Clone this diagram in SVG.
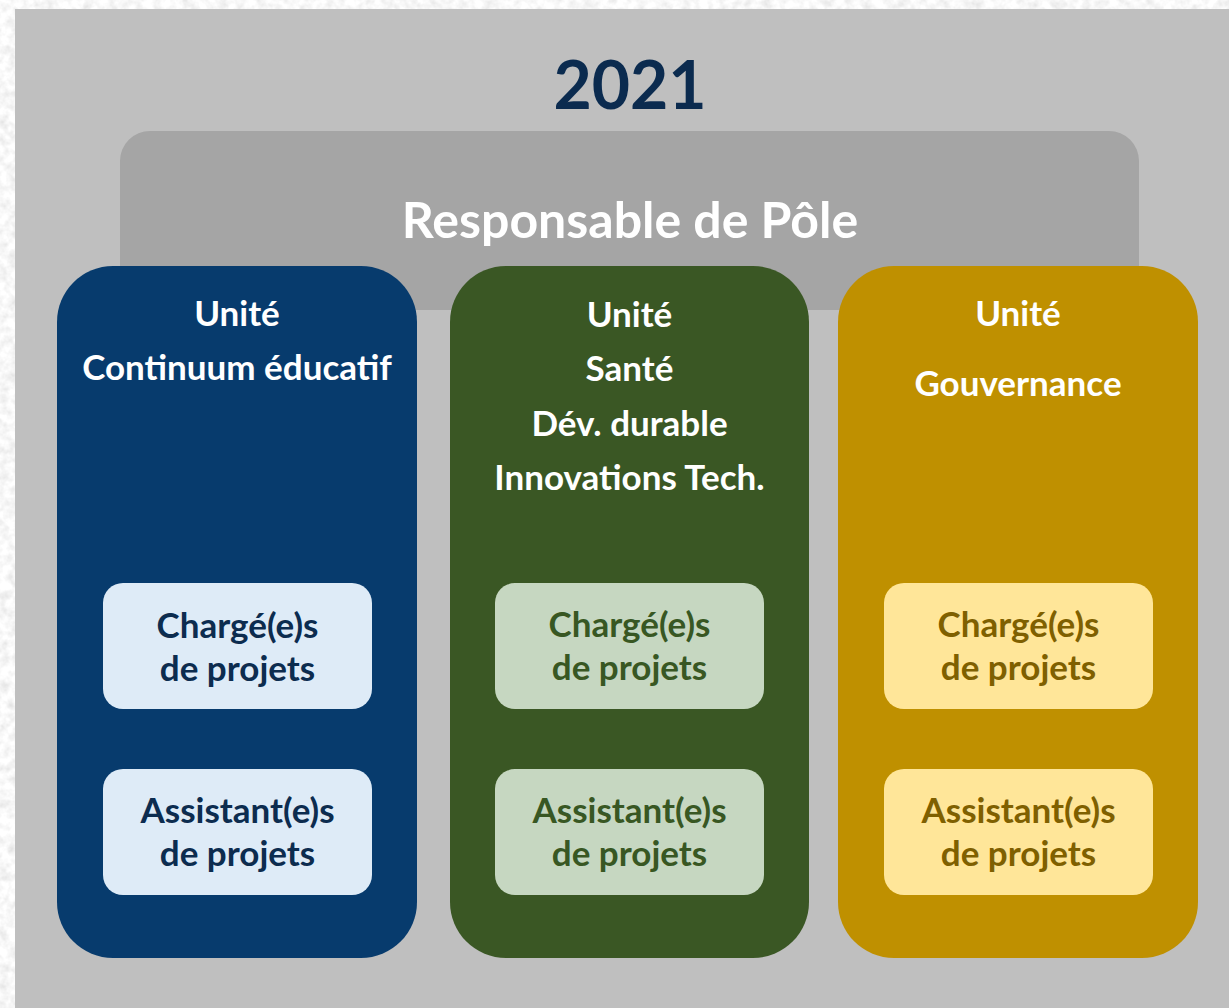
<svg xmlns="http://www.w3.org/2000/svg" width="1229" height="1008" viewBox="0 0 1229 1008">
  <defs>
    <filter id="tex" x="0" y="0" width="100%" height="100%" filterUnits="userSpaceOnUse">
      <feTurbulence type="fractalNoise" baseFrequency="0.11" numOctaves="3" seed="7"/>
      <feColorMatrix type="matrix" values="0.4 0 0 0 0.74  0.4 0 0 0 0.74  0.4 0 0 0 0.74  0 0 0 0 1"/>
    </filter>
    <style>
      text { font-family: Lato, "Open Sans", "Liberation Sans", sans-serif; font-weight: bold; text-anchor: middle; }
      .unit { fill: #ffffff; font-size: 35px; }
      .box { font-size: 35px; }
      .blue-col { fill: #073b6d; }
      .green-col { fill: #3a5724; }
      .gold-col { fill: #bf9000; }
      .blue-box { fill: #deebf7; }
      .green-box { fill: #c6d7c1; }
      .gold-box { fill: #ffe699; }
      .blue-txt { fill: #0c2c4f; }
      .green-txt { fill: #385723; }
      .gold-txt { fill: #7f6000; }
    </style>
  </defs>

  <rect x="0" y="0" width="1229" height="1008" fill="#eeeeee" filter="url(#tex)"/>
  <rect id="panel" x="15" y="9" width="1214" height="999" fill="#bfbfbf"/>

  <text id="year" x="630" y="109" font-size="66" fill="#0b2b4f">2021</text>

  <g id="responsable">
    <rect x="120" y="131" width="1019" height="179" rx="30" ry="30" fill="#a5a5a5"/>
    <text x="630" y="238" font-size="50" fill="#ffffff">Responsable de Pôle</text>
  </g>

  <g id="unit-continuum">
    <rect class="blue-col" x="57" y="266" width="360" height="692" rx="56" ry="56"/>
    <text class="unit" x="237" y="326">Unité</text>
    <text class="unit" x="237" y="380">Continuum éducatif</text>
    <g id="continuum-charges">
      <rect class="blue-box" x="103" y="583" width="269" height="126" rx="20" ry="20"/>
      <text class="box blue-txt" x="237.5" y="638">Chargé(e)s</text>
      <text class="box blue-txt" x="237.5" y="681">de projets</text>
    </g>
    <g id="continuum-assistants">
      <rect class="blue-box" x="103" y="769" width="269" height="126" rx="20" ry="20"/>
      <text class="box blue-txt" x="237.5" y="823">Assistant(e)s</text>
      <text class="box blue-txt" x="237.5" y="866">de projets</text>
    </g>
  </g>

  <g id="unit-sante">
    <rect class="green-col" x="450" y="266" width="359" height="692" rx="56" ry="56"/>
    <text class="unit" x="629.5" y="327">Unité</text>
    <text class="unit" x="629.5" y="381">Santé</text>
    <text class="unit" x="629.5" y="436">Dév. durable</text>
    <text class="unit" x="629.5" y="490">Innovations Tech.</text>
    <g id="sante-charges">
      <rect class="green-box" x="495" y="583" width="269" height="126" rx="20" ry="20"/>
      <text class="box green-txt" x="629.5" y="637">Chargé(e)s</text>
      <text class="box green-txt" x="629.5" y="680">de projets</text>
    </g>
    <g id="sante-assistants">
      <rect class="green-box" x="495" y="769" width="269" height="126" rx="20" ry="20"/>
      <text class="box green-txt" x="629.5" y="823">Assistant(e)s</text>
      <text class="box green-txt" x="629.5" y="866">de projets</text>
    </g>
  </g>

  <g id="unit-gouvernance">
    <rect class="gold-col" x="838" y="266" width="360" height="692" rx="56" ry="56"/>
    <text class="unit" x="1018" y="326">Unité</text>
    <text class="unit" x="1018" y="396">Gouvernance</text>
    <g id="gouvernance-charges">
      <rect class="gold-box" x="884" y="583" width="269" height="126" rx="20" ry="20"/>
      <text class="box gold-txt" x="1018.5" y="637">Chargé(e)s</text>
      <text class="box gold-txt" x="1018.5" y="680">de projets</text>
    </g>
    <g id="gouvernance-assistants">
      <rect class="gold-box" x="884" y="769" width="269" height="126" rx="20" ry="20"/>
      <text class="box gold-txt" x="1018.5" y="823">Assistant(e)s</text>
      <text class="box gold-txt" x="1018.5" y="866">de projets</text>
    </g>
  </g>

  <g id="connectors"/>
</svg>
